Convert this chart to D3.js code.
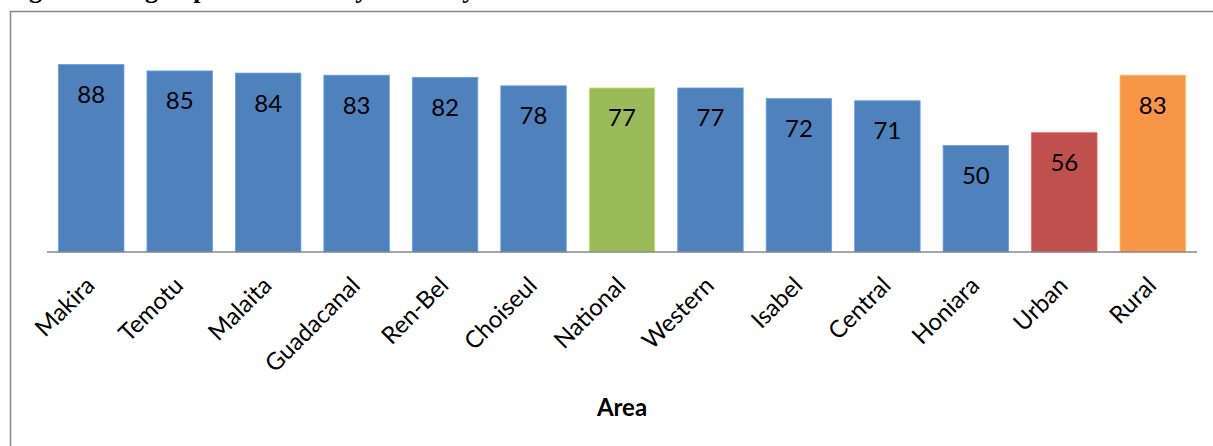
<!DOCTYPE html>
<html>
<head>
<meta charset="utf-8">
<script src="https://cdn.jsdelivr.net/npm/d3@7"></script>
<style>
  html, body { margin: 0; padding: 0; background: #ffffff; }
  svg { display: block; }
</style>
</head>
<body>
<div id="chart"></div>
<script>
// Areas, values (%) and bar colours
const areas = ["Makira", "Temotu", "Malaita", "Guadacanal", "Ren-Bel", "Choiseul",
               "National", "Western", "Isabel", "Central", "Honiara", "Urban", "Rural"];
const values = [88, 85, 84, 83, 82, 78, 77, 77, 72, 71, 50, 56, 83];
const barColors = ["#4F81BD", "#4F81BD", "#4F81BD", "#4F81BD", "#4F81BD", "#4F81BD",
                   "#9BBB59", "#4F81BD", "#4F81BD", "#4F81BD", "#4F81BD", "#C0504D", "#F79646"];
const titleText = "Figure: Using improved sanitary toilets by area";
const axisTitle = "Area";

const W = 1213, H = 446;
const svg = d3.select("#chart").append("svg")
  .attr("width", W).attr("height", H)
  .attr("viewBox", `0 0 ${W} ${H}`);

svg.append("rect").attr("width", W).attr("height", H).attr("fill", "#ffffff");

// Caption above the chart frame (runs off the top edge of the page)
svg.append("text")
  .attr("x", 6).attr("y", -2)
  .attr("font-family", "'Liberation Serif', 'Times New Roman', serif")
  .attr("font-weight", "bold")
  .attr("font-size", 26)
  .attr("fill", "#000")
  .text(titleText);

// Chart frame
svg.append("rect")
  .attr("x", 10.5).attr("y", 11.5)
  .attr("width", W + 20).attr("height", H + 20)
  .attr("fill", "none")
  .attr("stroke", "#888888")
  .attr("stroke-width", 1.5);

const plot = { left: 47, right: 1197, top: 39, bottom: 252 };

const x = d3.scaleBand()
  .domain(areas)
  .range([plot.left, plot.right])
  .paddingInner(0.26)
  .paddingOuter(0.13);

const y = d3.scaleLinear()
  .domain([0, 100])
  .range([plot.bottom, plot.top]);

const data = areas.map((a, i) => ({ area: a, value: values[i], color: barColors[i] }));

// Bars
svg.append("g").selectAll("rect")
  .data(data)
  .join("rect")
  .attr("x", d => x(d.area))
  .attr("y", d => y(d.value))
  .attr("width", x.bandwidth())
  .attr("height", d => y(0) - y(d.value))
  .attr("fill", d => d.color)
  .attr("stroke", d => d3.color(d.color).brighter(0.6))
  .attr("stroke-width", 0.8);

// Value labels inside the bars
svg.append("g").selectAll("text")
  .data(data)
  .join("text")
  .attr("x", d => x(d.area) + x.bandwidth() / 2)
  .attr("y", d => y(d.value) + 38.5)
  .attr("text-anchor", "middle")
  .attr("font-family", "Lato, 'Open Sans', sans-serif")
  .attr("font-size", 24)
  .attr("fill", "#000")
  .text(d => d.value);

// Category axis
const xAxis = d3.axisBottom(x).tickSize(0).tickPadding(0);
const gx = svg.append("g")
  .attr("transform", `translate(0,${plot.bottom})`)
  .call(xAxis);
gx.select(".domain")
  .attr("stroke", "#888888")
  .attr("stroke-width", 1.5)
  .attr("d", `M${plot.left},0H${plot.right}`);
gx.selectAll(".tick text")
  .attr("font-family", "Lato, 'Open Sans', sans-serif")
  .attr("font-size", 24)
  .attr("fill", "#000")
  .attr("text-anchor", "end")
  .attr("dy", null)
  .attr("transform", "translate(5,35) rotate(-45)");

// Axis title
svg.append("text")
  .attr("x", (plot.left + plot.right) / 2)
  .attr("y", 416)
  .attr("text-anchor", "middle")
  .attr("font-family", "Lato, 'Open Sans', sans-serif")
  .attr("font-weight", "bold")
  .attr("font-size", 24)
  .attr("fill", "#000")
  .text(axisTitle);
</script>
</body>
</html>
